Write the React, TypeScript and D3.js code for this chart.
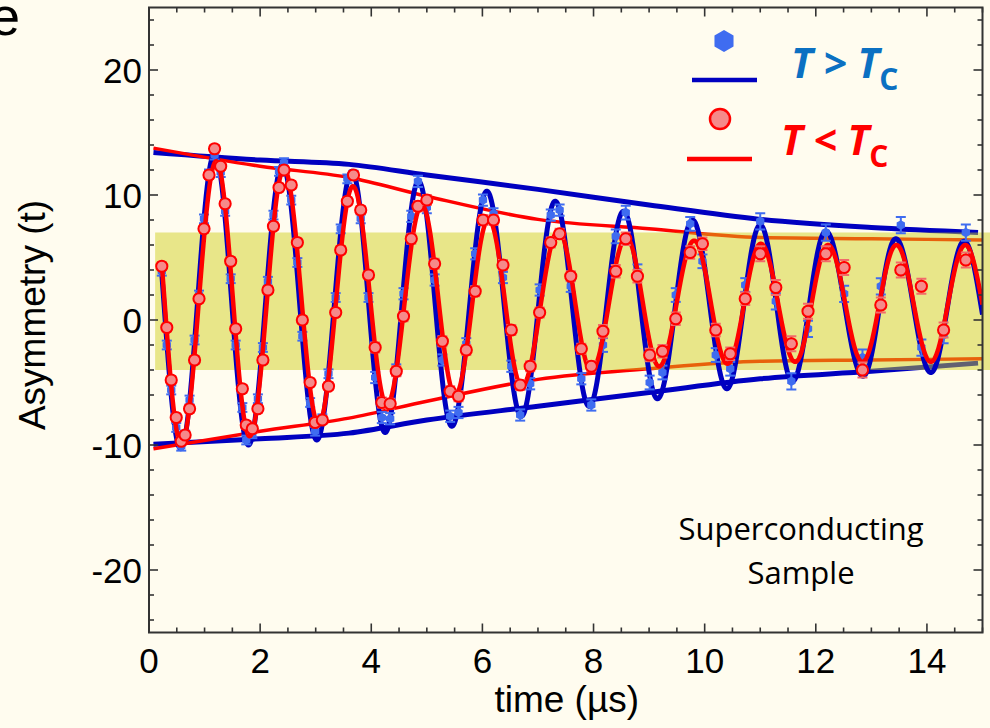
import React from "react";
import * as d3 from "d3";

const W = 990;
const H = 728;

// axes
const xDomain = [0, 15];
const yDomain = [-25, 25];
const xMajorTicks = [0, 2, 4, 6, 8, 10, 12, 14];
const yMajorTicks = [-20, -10, 0, 10, 20];

// data bins (µs)
const timeBins = [
  0.23, 0.32, 0.40, 0.49, 0.58, 0.65, 0.73, 0.82, 0.90, 0.99, 1.08, 1.18, 1.29, 1.37, 1.47, 1.56,
  1.68, 1.75, 1.86, 1.96, 2.05, 2.14, 2.24, 2.34, 2.43, 2.56, 2.67, 2.76, 2.90, 2.99, 3.12, 3.23,
  3.36, 3.45, 3.57, 3.68, 3.81, 3.95, 4.07, 4.19, 4.34, 4.45, 4.58, 4.72, 4.84, 5.00, 5.14, 5.28,
  5.42, 5.57, 5.71, 5.87, 6.01, 6.20, 6.37, 6.52, 6.68, 6.86, 7.03, 7.23, 7.39, 7.59, 7.78, 7.96,
  8.17, 8.40, 8.58, 8.79, 9.01, 9.24, 9.48, 9.74, 9.96, 10.20, 10.46, 10.73, 11.00, 11.28, 11.56,
  11.86, 12.18, 12.51, 12.84, 13.17, 13.53, 13.90, 14.30, 14.70,
];

// T < Tc (red circles)
const belowTcValues = [
  4.3, -0.6, -4.8, -7.8, -9.7, -9.2, -7.1, -3.2, 1.7, 7.3, 11.6, 13.7, 12.3, 9.3, 4.7, -0.7,
  -5.5, -8.4, -8.7, -7.1, -3.2, 2.4, 7.5, 10.6, 12.0, 10.8, 6.2, 0.0, -5.0, -8.2, -8.0, -5.3,
  0.6, 5.6, 9.5, 11.6, 8.8, 3.6, -2.2, -6.6, -6.7, -4.1, 0.3, 6.5, 9.1, 9.6, 4.5, -1.7,
  -5.7, -6.1, -2.4, 2.3, 8.0, 8.0, 4.4, -0.8, -5.2, -3.7, 0.6, 6.2, 6.9, 3.5, -2.3, -3.7,
  -0.9, 3.9, 6.5, 3.5, -2.8, -2.5, 0.1, 5.4, 6.1, -0.8, -2.7, 1.7, 5.3, 2.6, -1.9,
  0.7, 5.3, 4.2, -4.0, 1.2, 4.0, 2.7, -0.8, 4.8,
];

// T > Tc (blue hexagons)
const aboveTcValues = [
  3.9, -2.0, -5.6, -8.6, -10.1, -9.2, -6.4, -1.6, 2.0, 8.1, 11.7, 13.2, 11.8, 8.7, 3.3, -2.0,
  -7.0, -9.6, -9.1, -6.3, -2.2, 3.1, 8.4, 11.9, 12.6, 9.6, 4.6, -1.3, -6.6, -8.9, -7.9, -4.3,
  1.8, 7.3, 11.3, 11.6, 8.1, 1.8, -4.6, -7.8, -7.9, -4.0, 2.1, 8.3, 11.1, 9.0, 3.2, -3.2,
  -7.7, -7.4, -1.9, 5.3, 9.6, 8.5, 3.4, -3.7, -7.6, -5.1, 2.4, 8.4, 8.8, 2.7, -4.7, -6.8,
  -2.0, 6.7, 8.6, 3.9, -5.0, -4.2, 2.0, 7.7, 4.7, -2.8, -3.9, 2.8, 7.9, 1.5, -4.9,
  -0.7, 7.0, 2.1, -3.0, 2.7, 7.6, -2.2, -1.2, 7.0,
];

// error bar sizes by time range
const errEdges = [4, 8, 11];
const aboveTcErr = [0.35, 0.45, 0.55, 0.65];
const belowTcErr = [0.3, 0.4, 0.5, 0.6];

// fitted curves: extrema (time, value)
const aboveFitExtT = [-0.04, 0.57, 1.18, 1.79, 2.40, 3.02, 3.65, 4.25, 4.85, 5.45, 6.08, 6.70, 7.31, 7.92, 8.54, 9.15, 9.78, 10.40, 11.00, 11.58, 12.18, 12.85, 13.44, 14.07, 14.67, 15.28];
const aboveFitExtV = [13.5, -10.3, 13.3, -10.0, 12.4, -9.6, 11.9, -9.0, 11.1, -8.5, 10.3, -7.7, 9.5, -6.9, 8.7, -6.3, 8.0, -5.5, 7.6, -4.9, 7.1, -4.5, 6.5, -4.2, 6.3, -4.1];
const belowFitExtT = [-0.03, 0.58, 1.21, 1.81, 2.43, 3.05, 3.67, 4.28, 4.91, 5.51, 6.11, 6.71, 7.37, 7.96, 8.59, 9.18, 9.81, 10.41, 11.01, 11.63, 12.22, 12.84, 13.45, 14.07, 14.69, 15.30];
const belowFitExtV = [13.5, -9.9, 12.7, -9.3, 12.1, -8.3, 10.7, -6.8, 9.2, -6.0, 8.05, -5.3, 7.15, -4.05, 6.6, -3.7, 6.35, -3.5, 6.1, -3.35, 6.0, -3.35, 6.0, -3.35, 6.0, -3.3];
const fitStart = 0.23;
const fitEnd = 15;

// envelopes
const aboveEnvT = [0.08, 2, 3.6, 5, 7, 9, 11, 13, 14.92];
const aboveEnvTop = [13.4, 12.8, 12.45, 11.6, 10.45, 9.2, 8.05, 7.4, 7.0];
const aboveEnvBottom = [-9.95, -9.5, -9.05, -8.0, -6.9, -5.8, -4.7, -4.1, -3.45];
const belowEnvT = [0.08, 2, 3.6, 5, 7, 9, 11, 13, 15];
const belowEnvTop = [13.75, 12.3, 11.4, 9.9, 8.05, 7.3, 6.6, 6.5, 6.4];
const belowEnvBottom = [-10.3, -8.9, -7.85, -6.5, -4.75, -3.9, -3.3, -3.2, -3.1];

// highlighted band
const bandT = [0.11, 15.15];
const bandV = [-4, 7];

const C = {
  bg: "#FFFCEF",
  blueLine: "#0000C0",
  bluePt: "#3F6CF0",
  red: "#FF0000",
  redFill: "#F58A8A",
  redErr: "#F26A6A",
  band: "rgb(206,206,23)",
  axis: "#333333",
  blueText: "#0B70C2",
};

const x = d3.scaleLinear().domain(xDomain).range([149, 982.5]);
const y = d3.scaleLinear().domain(yDomain).range([632.5, 7.5]);

function fitValue(t: number, et: number[], ev: number[]) {
  let i = d3.bisectRight(et, t) - 1;
  i = Math.max(0, Math.min(et.length - 2, i));
  const t0 = et[i], t1 = et[i + 1];
  const mid = (ev[i] + ev[i + 1]) / 2;
  const half = (ev[i] - ev[i + 1]) / 2;
  return mid + half * Math.cos((Math.PI * (t - t0)) / (t1 - t0));
}

function fitPath(et: number[], ev: number[]) {
  const ts = d3.range(fitStart, fitEnd + 1e-9, 0.004);
  ts.push(fitEnd);
  const line = d3
    .line<number>()
    .x((t) => x(t))
    .y((t) => y(fitValue(t, et, ev)));
  return line(ts) || "";
}

function envPath(ts: number[], vs: number[]) {
  const line = d3
    .line<number>()
    .x((_, i) => x(ts[i]))
    .y((v) => y(v))
    .curve(d3.curveMonotoneX);
  return line(vs) || "";
}

function hexPath(cx: number, cy: number, r: number) {
  const pts = d3.range(6).map((i) => {
    const a = ((i * 60 - 90) * Math.PI) / 180;
    return [cx + r * Math.cos(a), cy + r * Math.sin(a)];
  });
  return "M" + pts.map((p) => p[0].toFixed(2) + "," + p[1].toFixed(2)).join("L") + "Z";
}

function errFor(t: number, levels: number[]) {
  return levels[d3.bisectRight(errEdges, t)];
}

export default function App() {
  const left = x(xDomain[0]);
  const right = x(xDomain[1]);
  const top = y(yDomain[1]);
  const bottom = y(yDomain[0]);
  const xMinor = d3.range(0, 15.001, 0.5);
  const yMinor = d3.range(-24, 24.001, 2);
  const tickFont = "'Liberation Sans', Arial, sans-serif";
  const cap = 5;

  return (
    <div style={{ position: "absolute", left: 0, top: 0, width: W, height: H }}>
      <svg width={W} height={H} viewBox={`0 0 ${W} ${H}`} style={{ display: "block" }}>
        <defs>
          <clipPath id="plotClip">
            <rect x={left} y={top} width={right - left} height={bottom - top} />
          </clipPath>
        </defs>
        <rect x={0} y={0} width={W} height={H} fill={C.bg} />

        {/* envelopes (under the band) */}
        <path d={envPath(aboveEnvT, aboveEnvTop)} fill="none" stroke={C.blueLine} strokeWidth={5} />
        <path d={envPath(aboveEnvT, aboveEnvBottom)} fill="none" stroke={C.blueLine} strokeWidth={5} />
        <path d={envPath(belowEnvT, belowEnvTop)} fill="none" stroke={C.red} strokeWidth={3.5} />
        <path d={envPath(belowEnvT, belowEnvBottom)} fill="none" stroke={C.red} strokeWidth={3.5} />

        {/* band */}
        <rect
          x={x(bandT[0])}
          y={y(bandV[1])}
          width={x(bandT[1]) - x(bandT[0])}
          height={y(bandV[0]) - y(bandV[1])}
          fill={C.band}
          fillOpacity={0.47}
        />

        <g clipPath="url(#plotClip)">
          {/* T > Tc fit */}
          <path d={fitPath(aboveFitExtT, aboveFitExtV)} fill="none" stroke={C.blueLine} strokeWidth={5} strokeLinejoin="round" />
          {/* T > Tc points */}
          {timeBins.map((t, i) => {
            const v = aboveTcValues[i];
            const e = errFor(t, aboveTcErr);
            const cx = x(t);
            return (
              <g key={"b" + i}>
                <line x1={cx} x2={cx} y1={y(v - e)} y2={y(v + e)} stroke={C.bluePt} strokeWidth={2} />
                <line x1={cx - cap} x2={cx + cap} y1={y(v - e)} y2={y(v - e)} stroke={C.bluePt} strokeWidth={2} />
                <line x1={cx - cap} x2={cx + cap} y1={y(v + e)} y2={y(v + e)} stroke={C.bluePt} strokeWidth={2} />
                <path d={hexPath(cx, y(v), 4.8)} fill={C.bluePt} />
              </g>
            );
          })}
          {/* T < Tc fit */}
          <path d={fitPath(belowFitExtT, belowFitExtV)} fill="none" stroke={C.red} strokeWidth={4.5} strokeLinejoin="round" />
          {/* T < Tc points */}
          {timeBins.map((t, i) => {
            const v = belowTcValues[i];
            const e = errFor(t, belowTcErr);
            const cx = x(t);
            return (
              <g key={"r" + i}>
                <line x1={cx} x2={cx} y1={y(v - e)} y2={y(v + e)} stroke={C.redErr} strokeWidth={2} />
                <line x1={cx - cap} x2={cx + cap} y1={y(v - e)} y2={y(v - e)} stroke={C.redErr} strokeWidth={2} />
                <line x1={cx - cap} x2={cx + cap} y1={y(v + e)} y2={y(v + e)} stroke={C.redErr} strokeWidth={2} />
                <circle cx={cx} cy={y(v)} r={5.6} fill={C.redFill} stroke={C.red} strokeWidth={2} />
              </g>
            );
          })}
        </g>

        {/* frame and ticks */}
        <rect x={left} y={top} width={right - left} height={bottom - top} fill="none" stroke={C.axis} strokeWidth={2} />
        {xMinor.map((t) => {
          const major = xMajorTicks.includes(t);
          const len = major ? 9 : 5;
          return (
            <g key={"xt" + t}>
              <line x1={x(t)} x2={x(t)} y1={bottom} y2={bottom - len} stroke={C.axis} strokeWidth={1.6} />
              <line x1={x(t)} x2={x(t)} y1={top} y2={top + len} stroke={C.axis} strokeWidth={1.6} />
            </g>
          );
        })}
        {yMinor.map((v) => {
          const major = yMajorTicks.includes(v);
          const len = major ? 9 : 5;
          return (
            <g key={"yt" + v}>
              <line x1={left} x2={left + len} y1={y(v)} y2={y(v)} stroke={C.axis} strokeWidth={1.6} />
              <line x1={right} x2={right - len} y1={y(v)} y2={y(v)} stroke={C.axis} strokeWidth={1.6} />
            </g>
          );
        })}

        {/* tick labels */}
        {xMajorTicks.map((t) => (
          <text key={"xl" + t} x={x(t)} y={bottom + 40} textAnchor="middle" fontFamily={tickFont} fontSize={35} fill="#000">
            {t}
          </text>
        ))}
        {yMajorTicks.map((v) => (
          <text key={"yl" + v} x={left - 7} y={y(v)} dy="0.36em" textAnchor="end" fontFamily={tickFont} fontSize={35} fill="#000">
            {v}
          </text>
        ))}

        {/* axis titles */}
        <text x={(left + right) / 2 + 1} y={712} textAnchor="middle" fontFamily={tickFont} fontSize={37} fill="#000">
          time (µs)
        </text>
        <text
          transform={`translate(45, 315) rotate(-90)`}
          textAnchor="middle"
          fontFamily={tickFont}
          fontSize={37}
          fill="#000"
        >
          Asymmetry (t)
        </text>

        {/* panel letter */}
        <text x={-10} y={35} fontFamily={tickFont} fontSize={54} fill="#000">
          e
        </text>

        {/* annotation */}
        <text x={801} y={540} textAnchor="middle" fontFamily="'Open Sans', sans-serif" fontSize={31} fill="#000">
          Superconducting
        </text>
        <text x={801} y={584} textAnchor="middle" fontFamily="'Open Sans', sans-serif" fontSize={31} fill="#000">
          Sample
        </text>

        {/* legend */}
        <path d={hexPath(724, 41, 11)} fill={C.bluePt} />
        <line x1={692} x2={757} y1={80} y2={80} stroke={C.blueLine} strokeWidth={4.5} />
        <text x={791} y={78} fontFamily="'Open Sans', sans-serif" fontWeight={700} fontStyle="italic" fontSize={41} fill={C.blueText}>
          T &gt; T
          <tspan fontStyle="normal" fontSize={30} dy={12}>
            C
          </tspan>
        </text>
        <circle cx={720} cy={119} r={10} fill={C.redFill} stroke={C.red} strokeWidth={2.5} />
        <line x1={687} x2={752} y1={159} y2={159} stroke={C.red} strokeWidth={4.5} />
        <text x={781} y={155} fontFamily="'Open Sans', sans-serif" fontWeight={700} fontStyle="italic" fontSize={41} fill={C.red}>
          T &lt; T
          <tspan fontStyle="normal" fontSize={30} dy={12}>
            C
          </tspan>
        </text>
      </svg>
    </div>
  );
}
